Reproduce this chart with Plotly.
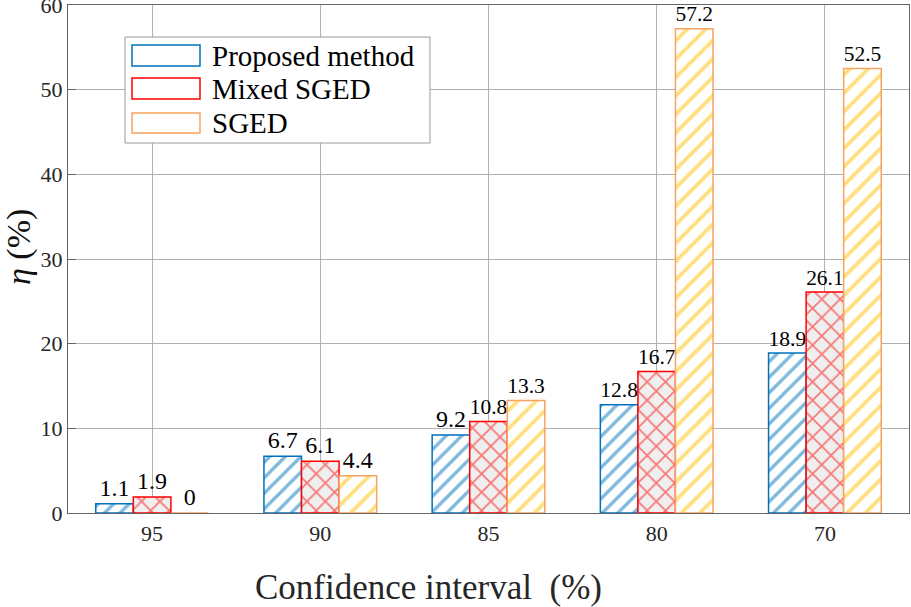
import plotly.graph_objects as go

categories = ["95", "90", "85", "80", "70"]
proposed = [1.1, 6.7, 9.2, 12.8, 18.9]
mixed_sged = [1.9, 6.1, 10.8, 16.7, 26.1]
sged = [0, 4.4, 13.3, 57.2, 52.5]
series_names = ["Proposed method", "Mixed SGED", "SGED"]
y_ticks = [0, 10, 20, 30, 40, 50, 60]
x_title = "Confidence interval\u00a0\u00a0(%)"
y_title = "<i>η</i> (%)"

FONT = "Times New Roman"
BLUE = "#0072BD"
RED = "#FF0000"
ORANGE = "#F7A25E"
GOLD = "#FFC000"

styles = [
    dict(line=BLUE, pattern=dict(shape="/", fgcolor=BLUE, bgcolor="white", size=11, solidity=0.3)),
    dict(line=RED, pattern=dict(shape="x", fgcolor=RED, bgcolor="#EFEFEF", size=13, solidity=0.25)),
    dict(line=ORANGE, pattern=dict(shape="/", fgcolor=GOLD, bgcolor="white", size=13, solidity=0.3)),
]

fig = go.Figure()
for name, vals, st in zip(series_names, [proposed, mixed_sged, sged], styles):
    fig.add_trace(go.Bar(
        x=categories, y=vals, name=name,
        marker=dict(color="white", line=dict(color=st["line"], width=1.5), pattern=st["pattern"]),
        text=[f"{v:g}" for v in vals], textposition="outside",
        textfont=dict(family=FONT, size=24, color="black"),
        cliponaxis=False, showlegend=False,
    ))

fig.update_layout(
    width=911, height=607,
    margin=dict(l=68, r=2, t=5, b=94, autoexpand=False),
    paper_bgcolor="white", plot_bgcolor="white",
    barmode="group", bargap=0.33, bargroupgap=0,
    font=dict(family=FONT, color="#262626"),
)
fig.update_xaxes(
    type="category", showgrid=True, gridcolor="#B0B0B0", gridwidth=1.2,
    showline=True, linecolor="#666666", linewidth=1.2, mirror=True,
    ticks="", automargin=False, tickfont=dict(family=FONT, size=22, color="#262626"),
)
fig.update_yaxes(
    range=[0, 60], tickvals=y_ticks, showgrid=True, gridcolor="#B0B0B0", gridwidth=1.2,
    showline=True, linecolor="#666666", linewidth=1.2, mirror=True,
    ticks="inside", ticklen=8, tickcolor="#666666", automargin=False,
    ticklabeloverflow="allow",
    tickfont=dict(family=FONT, size=22, color="#262626"),
    zeroline=False,
)

W, H, L, B = 841.0, 508.0, 68.0, 513.0
px = lambda x: (x - L) / W
py = lambda y: (B - y) / H

# axis titles
fig.add_annotation(xref="paper", yref="paper", x=px(428), y=py(587), text=x_title,
                   showarrow=False, xanchor="center", yanchor="middle",
                   font=dict(family=FONT, size=35, color="#262626"))
fig.add_annotation(xref="paper", yref="paper", x=px(19), y=py(247), text=y_title,
                   showarrow=False, xanchor="center", yanchor="middle", textangle=-90,
                   font=dict(family=FONT, size=34, color="#111111"))

# custom legend (paper coordinates)
fig.add_shape(type="rect", xref="paper", yref="paper",
              x0=px(125), x1=px(430), y0=py(143), y1=py(37),
              line=dict(color="#999999", width=1), fillcolor="white", layer="above")
rows = [(45, 66), (78, 99), (113, 133)]
for (t, b), name, st in zip(rows, series_names, styles):
    fig.add_shape(type="rect", xref="paper", yref="paper",
                  x0=px(132), x1=px(200), y0=py(b), y1=py(t),
                  line=dict(color=st["line"], width=1.5), fillcolor="white", layer="above")
    fig.add_annotation(xref="paper", yref="paper", x=px(210), y=py((t + b) / 2),
                       text=name, showarrow=False, xanchor="left", yanchor="middle",
                       font=dict(family=FONT, size=29, color="black"))

fig.write_html("out.html", config={"displayModeBar": False},
               post_script="document.body.style.margin='0';document.body.style.padding='0';")
